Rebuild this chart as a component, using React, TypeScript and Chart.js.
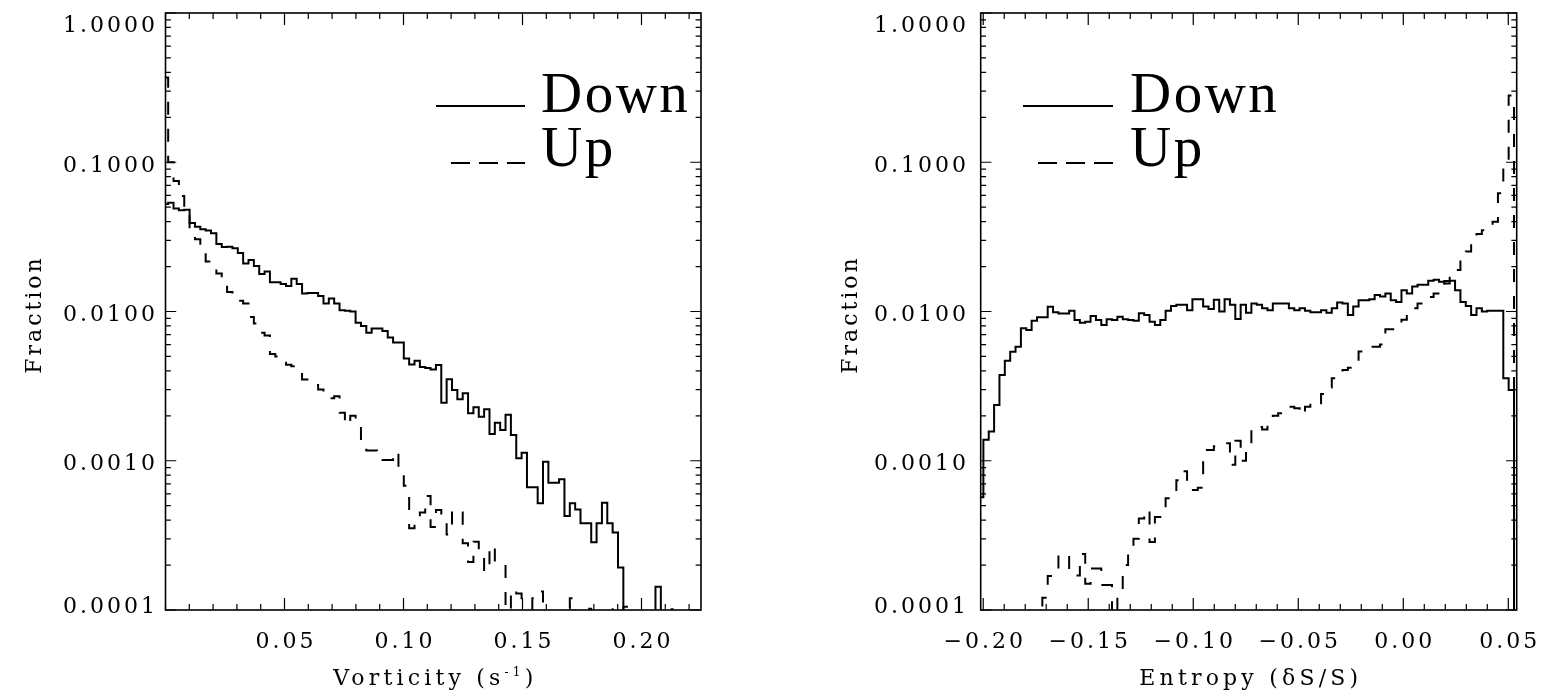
import React, { useEffect, useRef } from "react";
import { Chart, registerables } from "chart.js";

Chart.register(...registerables);

// ---------------- DATA ----------------
// Fraction axis (log)
const fractionTicks = [1, 0.1, 0.01, 0.001, 0.0001];
const fractionTickLabels = ["1.0000", "0.1000", "0.0100", "0.0010", "0.0001"];

// Left panel: vorticity histogram, 101 bins starting at 0, bin width 0.00225 s^-1
const vortStart = 0;
const vortBin = 0.00225;
const vortDown = [
  0.0525, 0.0535, 0.049, 0.0477, 0.048, 0.0392, 0.037, 0.0356, 0.0349, 0.0334,
  0.0283, 0.027, 0.0272, 0.0265, 0.0247, 0.021, 0.0221, 0.0202, 0.0178, 0.0185,
  0.0157, 0.0157, 0.0153, 0.0148, 0.0166, 0.0153, 0.0132, 0.0133, 0.0133, 0.0127,
  0.0113, 0.0122, 0.0113, 0.0102, 0.0101, 0.01, 0.0084, 0.008, 0.0072, 0.0077,
  0.0077, 0.0074, 0.0067, 0.0062, 0.0062, 0.00485, 0.00442, 0.00468, 0.00425, 0.00418,
  0.00408, 0.00438, 0.00245, 0.00351, 0.00298, 0.00258, 0.00283, 0.00208, 0.00228, 0.00197,
  0.00221, 0.00151, 0.0018, 0.00161, 0.00203, 0.00149, 0.00104, 0.00113, 0.000664, 0.000664,
  0.000519, 0.000986, 0.000713, 0.000713, 0.000751, 0.000427, 0.000519, 0.000472, 0.000381, 0.000381,
  0.000284, 0.000381, 0.000524, 0.000381, 0.000331, 0.000193, 0, 0, 0, 0,
  0, 0, 0.000143, 0, 0, 0, 0, 0, 0, 0,
  0,
];
const vortUp = [
  0.37, 0.1, 0.075, 0.0594, 0.045, 0.036, 0.0305, 0.026, 0.0216, 0.0195,
  0.018, 0.015, 0.0135, 0.012, 0.0118, 0.0113, 0.0092, 0.0083, 0.0072, 0.0069,
  0.0052, 0.005, 0.00454, 0.0044, 0.0043, 0.00427, 0.0035, 0.00322, 0.00322, 0.003,
  0.00262, 0.00262, 0.0027, 0.0021, 0.00174, 0.002, 0.0017, 0.00135, 0.00117, 0.00117,
  0.0011, 0.00101, 0.00101, 0.00115, 0.0009, 0.00068, 0.000353, 0.0004, 0.00045, 0.00058,
  0.00036, 0.000468, 0.00042, 0.00032, 0.000468, 0.00045, 0.00028, 0.00021, 0.000287, 0.00023,
  0.00018, 0.00027, 0.00021, 0.00021, 0.00008, 0.000138, 0.000129, 0.00008, 0.00007, 0.00012,
  0.000133, 0.00007, 0.00006, 0.00007, 0.00006, 0.00008, 0.00012, 0.00007, 0.00006, 0.000102,
  0.00005, 0.00004, 0.00005, 0.00004, 0.000101, 0.00005, 0.000105, 0, 0, 0,
  0, 0, 0, 0, 0, 0.000101, 0, 0, 0, 0,
  0,
];
const vortTicks = [0.05, 0.1, 0.15, 0.2];
const vortTickLabels = ["0.05", "0.10", "0.15", "0.20"];

// Right panel: entropy histogram, 101 bins starting at -0.2012, bin width 0.002552
const entStart = -0.2012;
const entBin = 0.002552;
const entDown = [
  0.00057, 0.00138, 0.00157, 0.00236, 0.00376, 0.00468, 0.00538, 0.00581, 0.00771, 0.00752,
  0.00868, 0.00914, 0.00914, 0.01076, 0.00987, 0.0097, 0.0097, 0.0101, 0.00877, 0.00841,
  0.00855, 0.00933, 0.00877, 0.00812, 0.00888, 0.00877, 0.00923, 0.00888, 0.00877, 0.00868,
  0.00972, 0.00947, 0.00855, 0.00812, 0.00877, 0.0101, 0.0109, 0.0111, 0.0111, 0.0102,
  0.0121, 0.0121, 0.0108, 0.0104, 0.012, 0.01, 0.0121, 0.0111, 0.0089, 0.0111,
  0.0098, 0.0113, 0.0111, 0.0105, 0.0102, 0.0113, 0.0113, 0.0113, 0.0105, 0.0102,
  0.0105, 0.0101, 0.00987, 0.00987, 0.0102, 0.00982, 0.0105, 0.0115, 0.0113, 0.00948,
  0.0108, 0.0119, 0.0119, 0.0121, 0.0129, 0.0126, 0.0132, 0.0119, 0.0116, 0.0139,
  0.0132, 0.0147, 0.0151, 0.0151, 0.0161, 0.0163, 0.0158, 0.0154, 0.0161, 0.0139,
  0.0116, 0.0109, 0.00948, 0.0105, 0.01, 0.0101, 0.0101, 0.0101, 0.00357, 0.00298,
  0,
];
const entUp = [
  0, 0, 0, 0, 0, 0, 0, 0, 0, 0,
  0, 0, 0.000121, 0.000169, 0.000169, 0.000237, 0.000237, 0.00017, 0.00017, 0.000237,
  0.00015, 0.00019, 0.00019, 0.000147, 0.000147, 0.00009, 0.000121, 0.0002, 0.000266, 0.0003,
  0.00041, 0.00047, 0.000286, 0.00042, 0.00048, 0.00056, 0.00056, 0.00074, 0.00085, 0.000637,
  0.000637, 0.00066, 0.00118, 0.00118, 0.00125, 0.00131, 0.00131, 0.00094, 0.00136, 0.001,
  0.0013, 0.0017, 0.00168, 0.00162, 0.0019, 0.002, 0.00208, 0.00215, 0.0023, 0.00225,
  0.00203, 0.0023, 0.0025, 0.00243, 0.0028, 0.0031, 0.00357, 0.0037, 0.00406, 0.0042,
  0.0045, 0.0054, 0.0057, 0.00581, 0.00581, 0.006, 0.0076, 0.0076, 0.0082, 0.0088,
  0.0098, 0.0105, 0.0113, 0.0119, 0.0125, 0.0132, 0.0132, 0.016, 0.0185, 0.019,
  0.023, 0.0252, 0.029, 0.033, 0.035, 0.038, 0.04, 0.062, 0.1, 0.28,
  0,
];
const entTicks = [-0.2, -0.15, -0.1, -0.05, 0, 0.05];
const entTickLabels = ["\u22120.20", "\u22120.15", "\u22120.10", "\u22120.05", "0.00", "0.05"];

const seriesNames = ["Down", "Up"];

// empty bins fall off the bottom of the log axis (like IDL), so they map far below the range
const EMPTY_BIN = 1e-7;

// ---------------- STYLE / LAYOUT ----------------
const SERIF = "'Liberation Serif', 'Times New Roman', serif";
const LABEL_FAMILY = "'DejaVu Serif', 'Liberation Serif', serif";
const TICK_SIZE = 22;
const TICK_FONT = `${TICK_SIZE}px ${LABEL_FAMILY}`;
const TICK_LS = 3;
const TITLE_LS = 4.2;
const LEGEND_FONT = `57px ${SERIF}`;
const LEGEND_LS = 2.5;
const DATA_DASH = [13, 14];
const LEGEND_DASH = [19, 9];

type Part = { text: string; size: number; dy: number };

type Panel = {
  left: number;
  width: number;
  pad: { left: number; right: number; top: number; bottom: number };
  xMin: number;
  xMax: number;
  start: number;
  bin: number;
  down: number[];
  up: number[];
  xTicks: number[];
  xTickLabels: string[];
  title: Part[];
  yLabelRight: number;
  yTitleX: number;
  legend: { solidX0: number; dashX0: number; lineX1: number; textX: number };
};

const panels: Panel[] = [
  {
    left: 0,
    width: 776,
    pad: { left: 165.5, right: 75, top: 13, bottom: 86 },
    xMin: 0,
    xMax: 0.225,
    start: vortStart,
    bin: vortBin,
    down: vortDown,
    up: vortUp,
    xTicks: vortTicks,
    xTickLabels: vortTickLabels,
    title: [
      { text: "Vorticity (s", size: TICK_SIZE, dy: 0 },
      { text: "-1", size: 12, dy: -9 },
      { text: ")", size: TICK_SIZE, dy: 0 },
    ],
    yLabelRight: 155,
    yTitleX: 41,
    legend: { solidX0: 436, dashX0: 451, lineX1: 525, textX: 541 },
  },
  {
    left: 776,
    width: 777,
    pad: { left: 204.7, right: 36.3, top: 13, bottom: 86 },
    xMin: -0.2012,
    xMax: 0.054,
    start: entStart,
    bin: entBin,
    down: entDown,
    up: entUp,
    xTicks: entTicks,
    xTickLabels: entTickLabels,
    title: [{ text: "Entropy (\u03b4S/S)", size: TICK_SIZE, dy: 0 }],
    yLabelRight: 190,
    yTitleX: 81,
    legend: { solidX0: 247, dashX0: 262, lineX1: 337, textX: 354 },
  },
];

function setLS(ctx: any, ls: number) {
  if ("letterSpacing" in ctx) ctx.letterSpacing = `${ls}px`;
}

function drawText(ctx: any, s: string, x: number, y: number, align: string, font: string, ls: number) {
  ctx.font = font;
  setLS(ctx, ls);
  ctx.textAlign = "left";
  ctx.textBaseline = "alphabetic";
  const w = ctx.measureText(s).width;
  let x0 = x;
  if (align === "right") x0 = x - w + ls;
  else if (align === "center") x0 = x - (w - ls) / 2;
  ctx.fillText(s, x0, y);
}

const idlAxesPlugin = {
  id: "idlAxes",
  afterDatasetsDraw(chart: any, _args: any, opts: any) {
    const p: Panel = opts.panel;
    if (!p) return;
    const ctx = chart.ctx;
    const a = chart.chartArea;
    const xs = chart.scales.x;
    const ys = chart.scales.y;
    const W = a.right - a.left;
    const H = a.bottom - a.top;
    ctx.save();
    ctx.strokeStyle = "#000";
    ctx.fillStyle = "#000";
    ctx.setLineDash([]);

    // ticks (inward, all four sides)
    ctx.lineWidth = 1.2;
    ctx.beginPath();
    const xTick = (v: number, len: number) => {
      const px = xs.getPixelForValue(v);
      if (px < a.left - 0.5 || px > a.right + 0.5) return;
      ctx.moveTo(px, a.bottom);
      ctx.lineTo(px, a.bottom - len);
      ctx.moveTo(px, a.top);
      ctx.lineTo(px, a.top + len);
    };
    const yTick = (v: number, len: number) => {
      const py = ys.getPixelForValue(v);
      ctx.moveTo(a.left, py);
      ctx.lineTo(a.left + len, py);
      ctx.moveTo(a.right, py);
      ctx.lineTo(a.right - len, py);
    };
    const lo = Math.ceil(p.xMin / 0.01 - 1e-6);
    const hi = Math.floor(p.xMax / 0.01 + 1e-6);
    for (let i = lo; i <= hi; i++) xTick(i * 0.01, 0.01 * H);
    p.xTicks.forEach((v) => xTick(v, 0.02 * H));
    fractionTicks.forEach((v) => yTick(v, 0.02 * W));
    for (let d = -4; d <= -1; d++) {
      for (let m = 2; m <= 9; m++) yTick(m * Math.pow(10, d), 0.01 * W);
    }
    ctx.stroke();

    // frame
    ctx.lineWidth = 1.6;
    ctx.strokeRect(a.left, a.top, W, H);

    // y tick labels
    fractionTicks.forEach((v, i) => {
      const py = ys.getPixelForValue(v);
      const off = i === 0 ? 19 : i === fractionTicks.length - 1 ? 3 : 9.5;
      drawText(ctx, fractionTickLabels[i], p.yLabelRight, py + off, "right", TICK_FONT, TICK_LS);
    });
    // x tick labels
    p.xTicks.forEach((v, i) => {
      const px = xs.getPixelForValue(v);
      drawText(ctx, p.xTickLabels[i], px, 648, "center", TICK_FONT, TICK_LS);
    });

    // x title (may include superscript parts)
    let total = 0;
    const widths = p.title.map((part) => {
      ctx.font = `${part.size}px ${LABEL_FAMILY}`;
      setLS(ctx, TITLE_LS);
      const w = ctx.measureText(part.text).width;
      total += w;
      return w;
    });
    let cx = (a.left + a.right) / 2 - (total - TITLE_LS) / 2;
    p.title.forEach((part, i) => {
      ctx.font = `${part.size}px ${LABEL_FAMILY}`;
      setLS(ctx, TITLE_LS);
      ctx.textAlign = "left";
      ctx.textBaseline = "alphabetic";
      ctx.fillText(part.text, cx, 685 + part.dy);
      cx += widths[i];
    });

    // y title
    ctx.save();
    ctx.translate(p.yTitleX, 316);
    ctx.rotate(-Math.PI / 2);
    drawText(ctx, "Fraction", 0, 0, "center", TICK_FONT, TICK_LS);
    ctx.restore();

    // legend
    const L = p.legend;
    ctx.lineWidth = 2;
    ctx.beginPath();
    ctx.moveTo(L.solidX0, 106);
    ctx.lineTo(L.lineX1, 106);
    ctx.stroke();
    ctx.setLineDash(LEGEND_DASH);
    ctx.beginPath();
    ctx.moveTo(L.dashX0, 163);
    ctx.lineTo(L.lineX1, 163);
    ctx.stroke();
    ctx.setLineDash([]);
    drawText(ctx, seriesNames[0], L.textX, 112, "left", LEGEND_FONT, LEGEND_LS);
    drawText(ctx, seriesNames[1], L.textX, 166, "left", LEGEND_FONT, LEGEND_LS);

    ctx.restore();
  },
};

function toPoints(start: number, bin: number, vals: number[]) {
  return vals.map((v, i) => ({ x: start + bin * i, y: v > 0 ? v : EMPTY_BIN }));
}

function PanelChart({ p }: { p: Panel }) {
  const ref = useRef<HTMLCanvasElement | null>(null);
  useEffect(() => {
    if (!ref.current) return;
    const chart = new Chart(ref.current, {
      type: "line",
      data: {
        datasets: [
          {
            label: seriesNames[0],
            data: toPoints(p.start, p.bin, p.down),
            borderColor: "#000",
            borderWidth: 2,
            stepped: "middle",
            pointRadius: 0,
            fill: false,
            borderJoinStyle: "miter",
          },
          {
            label: seriesNames[1],
            data: toPoints(p.start, p.bin, p.up),
            borderColor: "#000",
            borderWidth: 2,
            borderDash: DATA_DASH,
            stepped: "middle",
            pointRadius: 0,
            fill: false,
            borderJoinStyle: "miter",
          },
        ],
      } as any,
      options: {
        responsive: false,
        animation: false,
        devicePixelRatio: 1,
        layout: { padding: p.pad },
        plugins: {
          legend: { display: false },
          tooltip: { enabled: false },
          idlAxes: { panel: p },
        } as any,
        scales: {
          x: { type: "linear", min: p.xMin, max: p.xMax, display: false },
          y: { type: "logarithmic", min: 0.0001, max: 1, display: false },
        },
      } as any,
      plugins: [idlAxesPlugin as any],
    });
    return () => chart.destroy();
  }, [p]);
  return (
    <canvas
      ref={ref}
      width={p.width}
      height={696}
      style={{ position: "absolute", left: p.left, top: 0, width: p.width, height: 696 }}
    />
  );
}

export default function App() {
  return (
    <div style={{ position: "absolute", left: 0, top: 0, width: 1553, height: 696, background: "#fff" }}>
      {panels.map((p, i) => (
        <PanelChart key={i} p={p} />
      ))}
    </div>
  );
}
